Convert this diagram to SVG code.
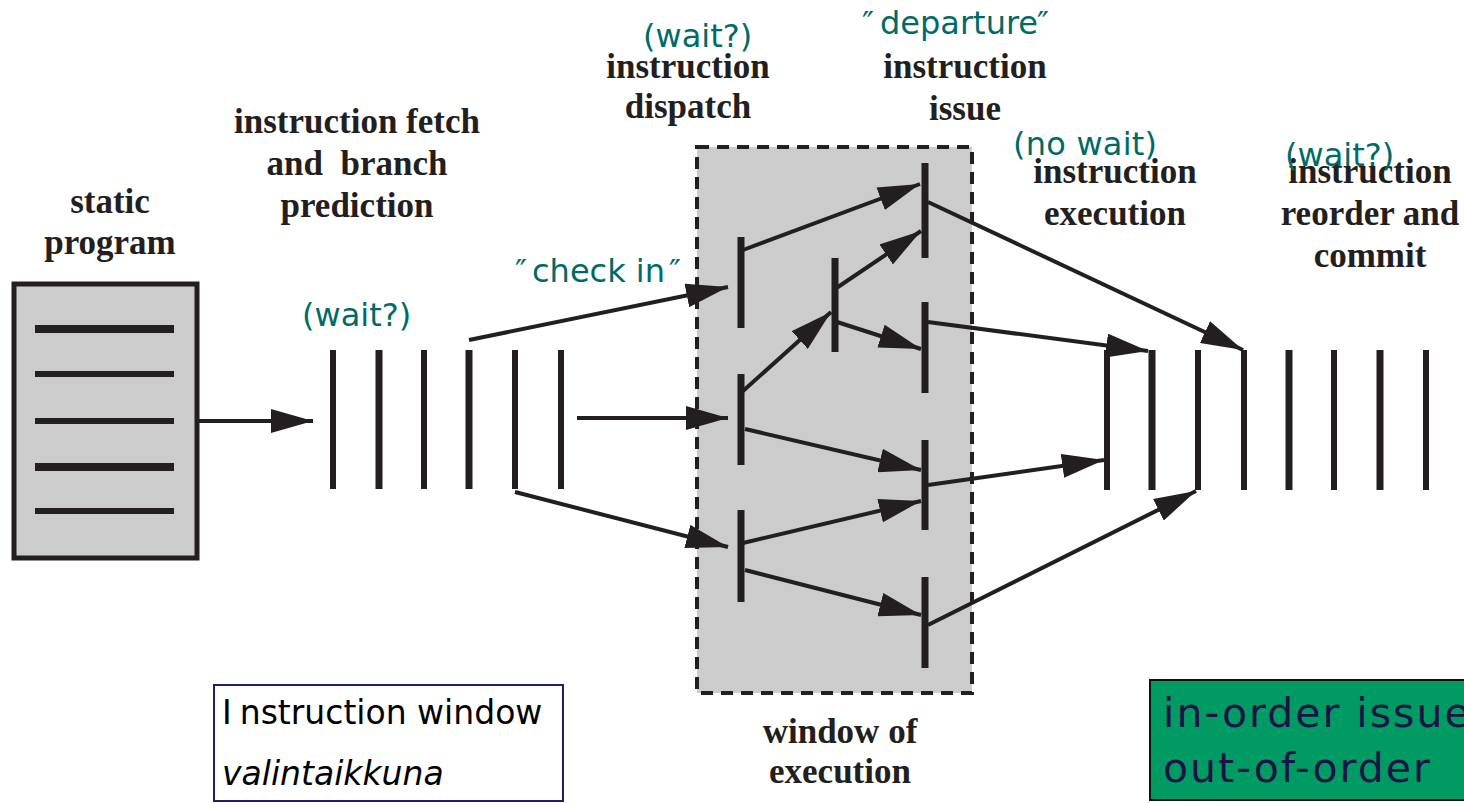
<svg xmlns="http://www.w3.org/2000/svg" width="1464" height="803" viewBox="0 0 1464 803">
<defs>
<marker id="ah" viewBox="0 0 42 24" refX="42" refY="12" markerWidth="42" markerHeight="24" markerUnits="userSpaceOnUse" orient="auto">
<path d="M0,0 L42,12 L0,24 Z" fill="#231f20"/>
</marker>
</defs>
<style>
.title{font-family:"Liberation Serif","Times New Roman",serif;font-weight:bold;font-size:35px;fill:#231f20;text-anchor:middle}
.teal{font-family:"DejaVu Sans",Verdana,sans-serif;font-size:32px;fill:#006b66}
.bar{stroke:#231f20;stroke-width:7}
.thin{stroke:#231f20;stroke-width:6}
.conn{stroke:#231f20;stroke-width:4;fill:none;marker-end:url(#ah)}
.note{font-family:"DejaVu Sans",Verdana,sans-serif;font-size:33px;fill:#000000}
.order{font-family:"DejaVu Sans",Verdana,sans-serif;font-size:41px;letter-spacing:2px;fill:#1a1446}
</style>
<rect width="1464" height="803" fill="#ffffff"/>

<g id="static-program">
<rect x="14" y="284" width="183" height="274" fill="#cccccc" stroke="#231f20" stroke-width="5"/>
<line x1="35" y1="329" x2="174" y2="329" stroke="#231f20" stroke-width="8"/>
<line x1="35" y1="374" x2="174" y2="374" stroke="#231f20" stroke-width="6"/>
<line x1="35" y1="421" x2="174" y2="421" stroke="#231f20" stroke-width="6"/>
<line x1="35" y1="467" x2="174" y2="467" stroke="#231f20" stroke-width="8"/>
<line x1="35" y1="511" x2="174" y2="511" stroke="#231f20" stroke-width="6"/>
<text class="title" x="110" y="213">static</text>
<text class="title" x="110" y="254">program</text>
</g>

<g id="fetch">
<line class="thin" x1="333" y1="350" x2="333" y2="489"/>
<line class="bar" x1="379" y1="350" x2="379" y2="489"/>
<line class="thin" x1="424" y1="350" x2="424" y2="489"/>
<line class="bar" x1="469" y1="350" x2="469" y2="489"/>
<line class="thin" x1="515" y1="350" x2="515" y2="489"/>
<line class="thin" x1="561" y1="350" x2="561" y2="489"/>
<text class="title" x="357" y="133">instruction fetch</text>
<text class="title" x="357" y="175">and&#160; branch</text>
<text class="title" x="357" y="217">prediction</text>
<text class="teal" x="302" y="326">(wait?)</text>
</g>

<g id="window">
<rect x="697" y="147" width="275" height="546" fill="#cccccc" stroke="#231f20" stroke-width="4" stroke-dasharray="12,8"/>
<text class="title" x="840" y="743">window of</text>
<text class="title" x="840" y="783">execution</text>
</g>

<g id="dispatch">
<line class="bar" x1="741" y1="237" x2="741" y2="328"/>
<line class="bar" x1="741" y1="374" x2="741" y2="465"/>
<line class="bar" x1="741" y1="510" x2="741" y2="602"/>
<line class="bar" x1="835" y1="258" x2="835" y2="352"/>
<text class="title" x="688" y="78">instruction</text>
<text class="title" x="688" y="118">dispatch</text>
<text class="teal" x="643" y="47" font-size="33">(wait?)</text>
<text class="teal" x="515" y="282" font-size="34">″<tspan x="532">check in</tspan><tspan x="669">″</tspan></text>
</g>

<g id="issue">
<line class="bar" x1="925" y1="163" x2="925" y2="258" stroke-width="8"/>
<line class="bar" x1="925" y1="302" x2="925" y2="393" stroke-width="8"/>
<line class="bar" x1="925" y1="440" x2="925" y2="530" stroke-width="8"/>
<line class="bar" x1="925" y1="577" x2="925" y2="668" stroke-width="8"/>
<text class="title" x="965" y="78">instruction</text>
<text class="title" x="965" y="120">issue</text>
<text class="teal" x="862" y="34">″<tspan x="880">departure</tspan><tspan x="1037">″</tspan></text>
</g>

<g id="execution">
<line class="thin" x1="1107" y1="350" x2="1107" y2="490"/>
<line class="bar" x1="1152" y1="350" x2="1152" y2="490" stroke-width="8"/>
<line class="thin" x1="1198" y1="350" x2="1198" y2="490"/>
<text class="title" x="1115" y="183">instruction</text>
<text class="title" x="1115" y="225">execution</text>
<text class="teal" x="1013" y="155" textLength="144">(no wait)</text>
</g>

<g id="commit">
<line class="thin" x1="1244" y1="350" x2="1244" y2="490"/>
<line class="bar" x1="1289" y1="350" x2="1289" y2="490" stroke-width="8"/>
<line class="thin" x1="1334" y1="350" x2="1334" y2="490"/>
<line class="bar" x1="1380" y1="350" x2="1380" y2="490" stroke-width="8"/>
<line class="thin" x1="1426" y1="350" x2="1426" y2="490"/>
<text class="title" x="1370" y="183">instruction</text>
<text class="title" x="1370" y="225">reorder and</text>
<text class="title" x="1370" y="267">commit</text>
<text class="teal" x="1285" y="166" font-size="33">(wait?)</text>
</g>

<g id="connectors">
<line class="conn" x1="199" y1="421" x2="313" y2="421"/>
<line class="conn" x1="469" y1="340" x2="728" y2="287"/>
<line class="conn" x1="577" y1="418" x2="728" y2="418"/>
<line class="conn" x1="515" y1="492" x2="728" y2="547"/>
<line class="conn" x1="743" y1="250" x2="920" y2="184"/>
<line class="conn" x1="743" y1="391" x2="831" y2="312"/>
<line class="conn" x1="835" y1="289" x2="921" y2="231"/>
<line class="conn" x1="837" y1="322" x2="921" y2="349"/>
<line class="conn" x1="745" y1="429" x2="921" y2="470"/>
<line class="conn" x1="743" y1="543" x2="921" y2="501"/>
<line class="conn" x1="745" y1="570" x2="921" y2="615"/>
<line class="conn" x1="928" y1="202" x2="1243" y2="350"/>
<line class="conn" x1="928" y1="322" x2="1148" y2="351"/>
<line class="conn" x1="928" y1="485" x2="1104" y2="460"/>
<line class="conn" x1="928" y1="625" x2="1196" y2="491"/>
</g>

<g id="note-window">
<rect x="214" y="685" width="349" height="116" fill="#ffffff" stroke="#1f1f6e" stroke-width="2"/>
<text class="note" x="222" y="724">I<tspan dx="8">nstruction window</tspan></text>
<text class="note" x="222" y="785" font-style="italic">valintaikkuna</text>
</g>

<g id="note-order">
<rect x="1150" y="680" width="330" height="120" fill="#009b62" stroke="#111111" stroke-width="2"/>
<text class="order" x="1163" y="727">in-order issue</text>
<text class="order" x="1163" y="782">out-of-order</text>
</g>
</svg>
